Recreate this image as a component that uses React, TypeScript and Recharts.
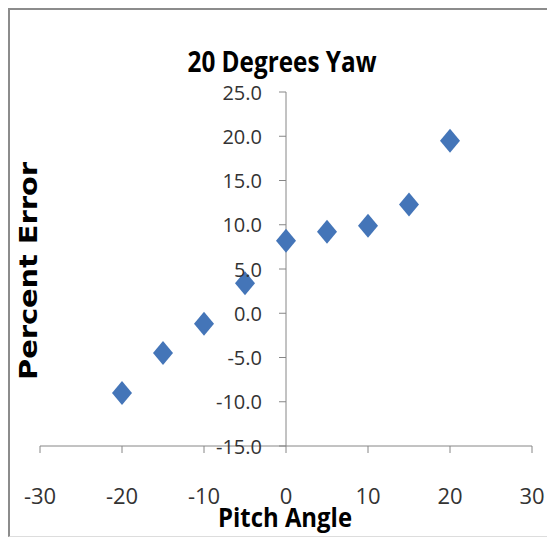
import React from "react";
import { ScatterChart, Scatter, XAxis, YAxis, ReferenceLine } from "recharts";

const xValues = [-20, -15, -10, -5, 0, 5, 10, 15, 20];
const yValues = [-9.0, -4.5, -1.2, 3.4, 8.2, 9.2, 9.9, 12.3, 19.5];
const xTicks = [-30, -20, -10, 0, 10, 20, 30];
const yTicks = [-15, -10, -5, 0, 5, 10, 15, 20, 25];

const data = xValues.map((x, i) => ({ x, y: yValues[i] }));

const CHART_W = 547;
const CHART_H = 531;
const MARGIN = { top: 84, right: 23, bottom: 33, left: 2 };
const Y_AXIS_W = 30;
const PLOT_LEFT = MARGIN.left + Y_AXIS_W;
const PLOT_W = CHART_W - MARGIN.left - MARGIN.right - Y_AXIS_W;
const AXIS_X = PLOT_LEFT + PLOT_W / 2;
const AXIS_COLOR = "#868686";
const TICK_FONT = "'Open Sans', 'Liberation Sans', sans-serif";

const YTick = (props: any) => {
  const { y, payload } = props;
  return (
    <g>
      <line x1={AXIS_X - 7} x2={AXIS_X} y1={y} y2={y} stroke={AXIS_COLOR} strokeWidth={1} />
      <text
        x={AXIS_X - 24}
        y={y}
        textAnchor="end"
        dominantBaseline="central"
        fontFamily={TICK_FONT}
        fontSize={20}
        fill="#333"
      >
        {Number(payload.value).toFixed(1)}
      </text>
    </g>
  );
};

const XTick = (props: any) => {
  const { x, y, payload } = props;
  return (
    <text
      x={x}
      y={y}
      dy={40}
      textAnchor="middle"
      dominantBaseline="central"
      fontFamily={TICK_FONT}
      fontSize={22}
      fill="#333"
    >
      {payload.value}
    </text>
  );
};

const Diamond = (props: any) => {
  const { cx, cy } = props;
  if (cx == null || cy == null) return null;
  return (
    <path
      d={`M${cx},${cy - 12} L${cx + 10},${cy} L${cx},${cy + 12} L${cx - 10},${cy} Z`}
      fill="#4475b8"
    />
  );
};

export default function App() {
  return (
    <div style={{ position: "relative", width: CHART_W, height: CHART_H }}>
      <div
        style={{
          position: "absolute",
          left: 0,
          top: 0,
          width: 540,
          height: 526,
          borderLeft: "2px solid #8c8c8c",
          borderTop: "2px solid #8c8c8c",
          borderRight: "1px solid #dddddd",
          borderBottom: "1px solid #dddddd",
        }}
      />
      <div style={{ position: "absolute", left: 0, top: 0 }}>
        <ScatterChart width={CHART_W} height={CHART_H} margin={MARGIN}>
          <XAxis
            type="number"
            dataKey="x"
            domain={[-30, 30]}
            ticks={xTicks}
            interval={0}
            height={60}
            tickSize={7}
            stroke={AXIS_COLOR}
            tick={<XTick />}
            allowDataOverflow
          />
          <YAxis
            type="number"
            dataKey="y"
            domain={[-15, 25]}
            ticks={yTicks}
            interval={0}
            width={Y_AXIS_W}
            axisLine={false}
            tickLine={false}
            tick={<YTick />}
            allowDataOverflow
          />
          <ReferenceLine x={0} stroke={AXIS_COLOR} strokeWidth={1} ifOverflow="extendDomain" />
          <Scatter data={data} shape={<Diamond />} isAnimationActive={false} />
        </ScatterChart>
      </div>
      <svg
        width={555}
        height={539}
        style={{ position: "absolute", left: -8, top: -8, pointerEvents: "none" }}
      >
        <text
          x={282}
          y={72}
          textAnchor="middle"
          fontFamily="'Open Sans', sans-serif"
          fontWeight="bold"
          fontSize={29}
          textLength={189}
          lengthAdjust="spacingAndGlyphs"
          fill="#000"
        >
          20 Degrees Yaw
        </text>
        <text
          x={285}
          y={527}
          textAnchor="middle"
          fontFamily="'Open Sans', sans-serif"
          fontWeight="bold"
          fontSize={27}
          textLength={134}
          lengthAdjust="spacingAndGlyphs"
          fill="#000"
        >
          Pitch Angle
        </text>
        <text
          x={37}
          y={271}
          transform="rotate(-90, 37, 271)"
          textAnchor="middle"
          fontFamily="'DejaVu Sans', sans-serif"
          fontWeight="bold"
          fontSize={25}
          textLength={218}
          lengthAdjust="spacingAndGlyphs"
          fill="#000"
        >
          Percent Error
        </text>
      </svg>
    </div>
  );
}
